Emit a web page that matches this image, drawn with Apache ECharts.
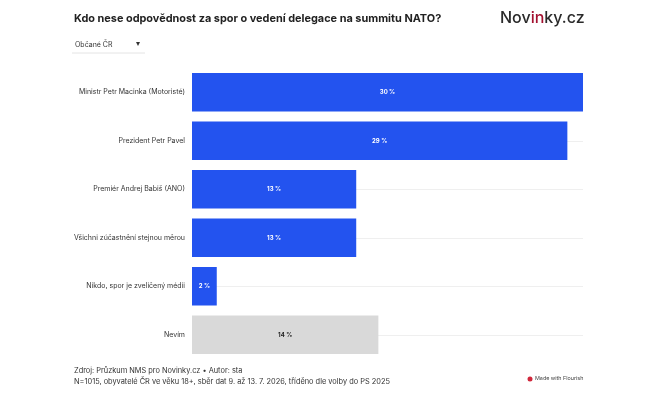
<!DOCTYPE html>
<html>
<head>
    <meta charset="utf-8">
    <title>Kdo nese odpovědnost</title>
    <script src="https://cdn.jsdelivr.net/npm/echarts@6.0.0/dist/echarts.min.js"></script>
    <style>
        body { margin: 0; background: #fff; }
    </style>
</head>
<body>
    <div id="chart" style="width: 658px; height: 400px;"></div>
    <script>
        // answers, top to bottom
        var categories = [
            "Ministr Petr Macinka (Motoristé)",
            "Prezident Petr Pavel",
            "Premiér Andrej Babiš (ANO)",
            "Všichni zúčastnění stejnou měrou",
            "Nikdo, spor je zveličený médii",
            "Nevím"
        ];
        // share in %
        var values = [30, 28.8, 12.6, 12.6, 1.9, 14.3];
        var isUnknown = [false, false, false, false, false, true];

        var chart = echarts.init(document.querySelector("#chart"));

        var font = "Inter, 'Noto Sans', sans-serif";

        var option = {
            animation: false,
            textStyle: { fontFamily: font },
            graphic: [
                {
                    type: 'text', left: 74, top: 13,
                    style: {
                        text: 'Kdo nese odpovědnost za spor o vedení delegace na summitu NATO?',
                        fontFamily: font, fontSize: 10.9, fontWeight: 'bold', fill: '#222'
                    }
                },
                {
                    type: 'text', left: 500, top: 10,
                    style: {
                        text: '{a|Nov}{b|in}{a|ky.cz}',
                        rich: {
                            a: { fontFamily: font, fontSize: 16, fontWeight: 500, fill: '#2a2a2a' },
                            b: { fontFamily: font, fontSize: 16, fontWeight: 500, fill: '#a3102f' }
                        }
                    }
                },
                {
                    type: 'text', left: 75, top: 41,
                    style: { text: 'Občané ČR', fontFamily: font, fontSize: 7, fill: '#333' }
                },
                {
                    type: 'text', left: 136, top: 40,
                    style: { text: '▾', fontFamily: font, fontSize: 8, fill: '#333' }
                },
                {
                    type: 'line', shape: { x1: 72, y1: 53, x2: 145, y2: 53 },
                    style: { stroke: '#e4e4e4', lineWidth: 1 }
                },
                {
                    type: 'text', left: 74, top: 365,
                    style: {
                        text: 'Zdroj: Průzkum NMS pro Novinky.cz • Autor: sta\nN=1015, obyvatelé ČR ve věku 18+, sběr dat 9. až 13. 7. 2026, tříděno dle volby do PS 2025',
                        fontFamily: font, fontSize: 7.4, fill: '#333', lineHeight: 11.5
                    }
                },
                {
                    type: 'circle', shape: { cx: 530, cy: 379, r: 2.5 },
                    style: { fill: '#d0273b' }
                },
                {
                    type: 'text', left: 535, top: 376,
                    style: { text: 'Made with Flourish', fontFamily: font, fontSize: 5.4, fill: '#444' }
                }
            ],
            grid: { left: 192, right: 75, top: 68, bottom: 41 },
            xAxis: {
                type: 'value',
                min: 0,
                max: 30,
                axisLabel: { show: false },
                axisLine: { show: false },
                axisTick: { show: false },
                splitLine: { show: false }
            },
            yAxis: {
                type: 'category',
                inverse: true,
                data: categories,
                axisLine: { show: false },
                axisTick: { show: false, alignWithLabel: true },
                splitLine: {
                    show: true,
                    alignWithLabel: true,
                    lineStyle: { color: '#efefef', width: 1 }
                },
                axisLabel: {
                    color: '#333',
                    fontSize: 7,
                    margin: 7
                }
            },
            series: [
                {
                    type: 'bar',
                    barCategoryGap: '21%',
                    data: values.map(function (v, i) {
                        return {
                            value: v,
                            itemStyle: { color: isUnknown[i] ? '#d9d9d9' : '#2353ef' },
                            label: { color: isUnknown[i] ? '#222' : '#fff' }
                        };
                    }),
                    label: {
                        show: true,
                        position: 'inside',
                        fontSize: 6,
                        fontWeight: 'bold',
                        formatter: function (p) { return Math.round(p.value) + ' %'; }
                    }
                }
            ]
        };
        chart.setOption(option);
    </script>
</body>
</html>
